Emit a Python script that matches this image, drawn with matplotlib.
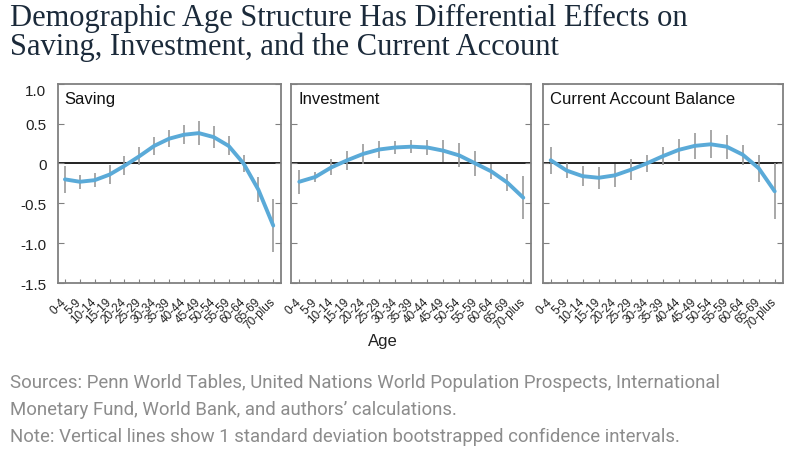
import numpy as np
import matplotlib
matplotlib.use('Agg')
import matplotlib.pyplot as plt
from matplotlib.transforms import ScaledTranslation

ages = ['0-4', '5-9', '10-14', '15-19', '20-24', '25-29', '30-34', '35-39',
        '40-44', '45-49', '50-54', '55-59', '60-64', '65-69', '70-plus']

# coefficient estimates
saving = [-0.20, -0.23, -0.21, -0.14, -0.03, 0.09, 0.22, 0.31,
          0.36, 0.38, 0.33, 0.22, 0.00, -0.33, -0.78]
saving_err = [0.17, 0.09, 0.09, 0.12, 0.12, 0.11, 0.11, 0.11,
              0.12, 0.15, 0.14, 0.12, 0.11, 0.16, 0.33]

investment = [-0.23, -0.17, -0.05, 0.04, 0.12, 0.175, 0.20, 0.21,
              0.20, 0.16, 0.10, 0.00, -0.10, -0.24, -0.43]
investment_err = [0.15, 0.06, 0.10, 0.12, 0.125, 0.11, 0.085, 0.08,
                  0.10, 0.14, 0.15, 0.16, 0.09, 0.11, 0.27]

current_account = [0.04, -0.09, -0.16, -0.18, -0.15, -0.08, 0.00, 0.09,
                   0.17, 0.22, 0.24, 0.21, 0.11, -0.06, -0.35]
current_account_err = [0.17, 0.09, 0.125, 0.14, 0.14, 0.13, 0.11, 0.11,
                       0.14, 0.16, 0.175, 0.15, 0.125, 0.17, 0.35]

panel_names = ['Saving', 'Investment', 'Current Account Balance']
yticks = [1.0, 0.5, 0, -0.5, -1.0, -1.5]
ytick_labels = ['1.0', '0.5', '0', '-0.5', '-1.0', '-1.5']

W, H = 789, 456
fig = plt.figure(figsize=(W / 100, H / 100), dpi=100)

# axes boxes in pixels: left, right
boxes = [(57.5, 280.7), (291.3, 531.3), (542.7, 782.7)]
top, bottom = 84.7, 284.0

series = [(saving, saving_err), (investment, investment_err),
          (current_account, current_account_err)]

x = np.arange(len(ages))
line_color = '#5aaad8'
spine_color = '#808080'

for i, ((l, r), (vals, errs)) in enumerate(zip(boxes, series)):
    ax = fig.add_axes([l / W, 1 - bottom / H, (r - l) / W, (bottom - top) / H])
    vals = np.array(vals)
    errs = np.array(errs)
    ax.axhline(0, color='#222222', lw=1.4, zorder=1)
    ax.vlines(x, vals - errs, vals + errs, color='#999999', lw=1.2, zorder=2)
    ax.plot(x, vals, color=line_color, lw=2.8, solid_capstyle='round', zorder=3)
    ax.set_xlim(-0.5, len(ages) - 0.5)
    ax.set_ylim(-1.5, 1.0)
    ax.set_yticks(yticks)
    ax.set_xticks(x)
    ax.set_xticklabels(ages, rotation=45, ha='right', va='center',
                       rotation_mode='anchor', fontsize=8.5,
                       family='Liberation Sans', color='#222222')
    shift = ScaledTranslation(4 / 100, 0, fig.dpi_scale_trans)
    for lab in ax.get_xticklabels():
        lab.set_transform(lab.get_transform() + shift)
    ax.tick_params(axis='x', direction='in', length=3, color=spine_color, pad=12)
    ax.tick_params(axis='y', direction='in', length=4, color=spine_color,
                   right=True)
    if i == 0:
        ax.set_yticklabels(ytick_labels, fontsize=11, family='Liberation Sans',
                           color='#222222')
        ax.tick_params(axis='y', pad=8)
        ax.get_yticklabels()[0].set_va('top')
    else:
        ax.set_yticklabels([])
    for s in ax.spines.values():
        s.set_color(spine_color)
        s.set_linewidth(1.3)
    ax.text(0.03, 0.965, panel_names[i], transform=ax.transAxes, va='top',
            ha='left', fontsize=12, family='Liberation Sans', color='#111111')

fig.text(383 / W, 1 - 342 / H, 'Age', ha='center', va='center',
         fontsize=12, family='Liberation Sans', color='#222222')

fig.text(10 / W, 1 - 18 / H, 'Demographic Age Structure Has Differential Effects on',
         ha='left', va='center', fontsize=22, family='Liberation Serif',
         color='#1b2a3a')
fig.text(10 / W, 1 - 47 / H, 'Saving, Investment, and the Current Account',
         ha='left', va='center', fontsize=22, family='Liberation Serif',
         color='#1b2a3a')

notes = ['Sources: Penn World Tables, United Nations World Population Prospects, International',
         'Monetary Fund, World Bank, and authors\u2019 calculations.',
         'Note: Vertical lines show 1 standard deviation bootstrapped confidence intervals.']
for k, t in enumerate(notes):
    fig.text(10 / W, 1 - (383 + 27 * k) / H, t, ha='left', va='center',
             fontsize=13.4, family='Roboto', color='#8c8c8c')

fig.savefig('out.png', dpi=100, facecolor='white')
